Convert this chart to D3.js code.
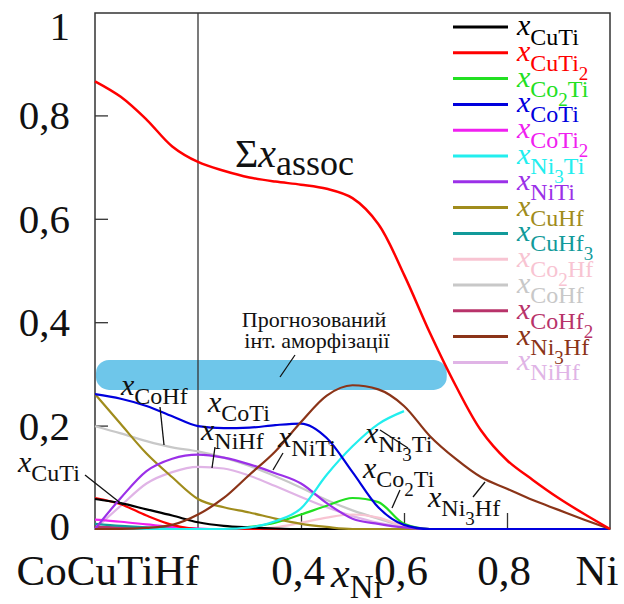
<!DOCTYPE html>
<html><head><meta charset="utf-8">
<script src="https://cdn.jsdelivr.net/npm/d3@7"></script>
<style>body{margin:0;background:#fff}svg{display:block}text{font-family:"Liberation Serif","Times New Roman",serif}</style>
</head><body><svg id="c" width="624" height="604" font-family="Liberation Serif, Times New Roman, serif"></svg>
<script>
// ---- data ----
const xGrid = [0,0.05,0.1,0.15,0.2,0.25,0.3,0.35,0.4,0.45,0.5,0.55,0.6,0.65,0.7,0.75,0.8,0.85,0.9,0.95,1];
const sumAssoc = [0.866,0.836,0.792,0.740,0.710,0.693,0.680,0.672,0.666,0.658,0.640,0.590,0.492,0.380,0.278,0.190,0.133,0.095,0.060,0.029,0];
const CuTi  = [0.058,0.050,0.038,0.026,0.013,0.006,0.003,0.001,0,0,0,0,0,0,0,0,0,0,0,0,0];
const CuTi2 = [0.060,0.048,0.026,0.008,0,0,0,0,0,0,0,0,0,0,0,0,0,0,0,0,0];
const Co2Ti = [0,0,0,0,0,0,0.004,0.012,0.028,0.045,0.060,0.052,0.010,0,0,0,0,0,0,0,0];
const CoTi  = [0.261,0.252,0.238,0.218,0.199,0.195,0.196,0.201,0.204,0.176,0.110,0.042,0.008,0,0,0,0,0,0,0,0];
const CoTi2 = [0.018,0.014,0.009,0.004,0.001,0,0,0,0,0,0,0,0,0,0,0,0,0,0,0,0];
const Ni3Ti = [0,0,0,0,0,0,0.003,0.015,0.040,0.105,0.160,0.203,0.228,null,null,null,null,null,null,null,null];
const NiTi  = [0,0.060,0.112,0.136,0.144,0.138,0.125,0.108,0.088,0.050,0.020,0.010,0.003,0,0,0,0,0,0,0,0];
const CuHf  = [0.261,0.203,0.146,0.100,0.058,0.042,0.032,0.020,0.010,0.004,0,0,0,0,0,0,0,0,0,0,0];
const CuHf3 = [0.010,0.006,0.003,0.001,0,0,0,0,0,0,0,0,0,0,0,0,0,0,0,0,0];
const Co2Hf = [0,0,0,0,0,0,0,0.003,0.012,0.022,0.028,0.022,0.006,0,0,0,0,0,0,0,0];
const CoHf  = [0.199,0.185,0.170,0.158,0.150,0.138,0.122,0.102,0.080,0.056,0.036,0.020,0.006,0,0,0,0,0,0,0,0];
const CoHf2 = [0.004,0.003,0.002,0.001,0,0,0,0,0,0,0,0,0,0,0,0,0,0,0,0,0];
const Ni3Hf = [0,0,0.002,0.008,0.028,0.060,0.105,0.150,0.207,0.258,0.278,0.270,0.238,0.180,0.136,0.100,0.078,0.056,0.037,0.018,0];
const NiHf  = [0,0.045,0.088,0.110,0.120,0.117,0.103,0.083,0.062,0.042,0.025,0.012,0.004,0,0,0,0,0,0,0,0];

const seriesNames  = ["CuTi","CuTi2","Co2Ti","CoTi","CoTi2","Ni3Ti","NiTi","CuHf","CuHf3","Co2Hf","CoHf","CoHf2","Ni3Hf","NiHf"];
const seriesValues = [CuTi,CuTi2,Co2Ti,CoTi,CoTi2,Ni3Ti,NiTi,CuHf,CuHf3,Co2Hf,CoHf,CoHf2,Ni3Hf,NiHf];
const seriesColors = ["#000000","#ff0000","#22e022","#0000dd","#f020f0","#22eeee","#9b30e8","#a08c1c","#129a9a","#f8c4d2","#c8c8c8","#b8336a","#8b3418","#e0b4e6"];

const yTickValues = [0,0.2,0.4,0.6,0.8,1];
const yTickLabels = ["0","0,2","0,4","0,6","0,8","1"];
const xTickValues = [0.2,0.4,0.6,0.8,1];
const xTickLabels = ["CoCuTiHf","0,4","0,6","0,8","Ni"];

const bandX = [0,0.683];
const bandY = [0.269,0.327];

// ---- chart ----
const svg = d3.select("#c");
const x = d3.scaleLinear().domain([0,1]).range([95,610]);
const y = d3.scaleLinear().domain([0,1]).range([529,12]);

// forecast band
svg.append("rect")
  .attr("x",x(bandX[0])+1).attr("y",y(bandY[1]))
  .attr("width",x(bandX[1])-x(bandX[0])-1).attr("height",y(bandY[0])-y(bandY[1]))
  .attr("rx",13).attr("fill","#6ec6ea");

// frame
svg.append("rect").attr("x",x(0)).attr("y",y(1)+1).attr("width",x(1)-x(0)).attr("height",y(0)-y(1)-1)
  .attr("fill","none").attr("stroke","#333").attr("stroke-width",1.5);

// y ticks (inner)
svg.append("g").attr("transform",`translate(${x(0)},0)`)
  .call(d3.axisRight(y).tickValues(yTickValues.filter(v=>v>0&&v<1)).tickSize(13).tickFormat(""))
  .call(g=>{g.select(".domain").remove();g.selectAll("line").attr("stroke","#333").attr("stroke-width",1.3);});
// x ticks (inner)
svg.append("g").attr("transform",`translate(0,${y(0)})`)
  .call(d3.axisTop(x).tickValues([0.4,0.6,0.8]).tickSize(16).tickFormat(""))
  .call(g=>{g.select(".domain").remove();g.selectAll("line").attr("stroke","#333").attr("stroke-width",1.3);});
// full vertical line at 0.2
svg.append("line").attr("x1",x(0.2)).attr("x2",x(0.2)).attr("y1",y(1)+1).attr("y2",y(0))
  .attr("stroke","#333").attr("stroke-width",1.3);

// y labels
yTickValues.forEach((v,i)=>{
  let by = y(v)+14;
  if (v===1) by = y(v)+28;
  if (v===0) by = y(v)+11;
  svg.append("text").attr("x",70).attr("y",by).attr("text-anchor","end")
    .attr("font-size",41).attr("fill","#111").text(yTickLabels[i]);
});
// x labels
xTickValues.forEach((v,i)=>{
  const t = svg.append("text").attr("y",585).attr("font-size",43).attr("fill","#111").text(xTickLabels[i]);
  if (i===0) t.attr("x",x(v)+1).attr("text-anchor","end");
  else if (v===1) t.attr("x",x(v)-13).attr("text-anchor","middle");
  else t.attr("x",x(v)-3).attr("text-anchor","middle");
});
// x axis title x_Ni
{
  const t = svg.append("text").attr("x",331).attr("y",587).attr("fill","#111");
  t.append("tspan").attr("font-style","italic").attr("font-size",42).text("x");
  t.append("tspan").attr("font-size",33).attr("dy",11).text("Ni");
}

// curves
const line = d3.line().defined(d=>d[1]!=null).x(d=>x(d[0])).y(d=>y(d[1])).curve(d3.curveMonotoneX);
const order = [10,13,9,11,8,4,2,1,0,7,6,5,3,12];
order.forEach(i=>{
  svg.append("path").datum(xGrid.map((xv,k)=>[xv,seriesValues[i][k]]))
    .attr("d",line).attr("fill","none").attr("stroke",seriesColors[i]).attr("stroke-width",2.2);
});
const smooth = d3.line().x(d=>x(d[0])).y(d=>y(d[1])).curve(d3.curveCatmullRom.alpha(0.5));
svg.append("path").datum(xGrid.map((xv,k)=>[xv,sumAssoc[k]]))
  .attr("d",smooth).attr("fill","none").attr("stroke","#ff0000").attr("stroke-width",2.5);

// rich label helper: x + subscript with numeric sub-subscripts
function richLabel(px,py,name,color,o){
  const t = svg.append("text").attr("x",px).attr("y",py).attr("fill",color);
  t.append("tspan").attr("font-style","italic").attr("font-size",o.xs).text("x");
  const toks = name.match(/[A-Za-z]+|\d+/g);
  let first = true, inNum = false;
  toks.forEach(tok=>{
    const isNum = /\d/.test(tok);
    let dy = 0;
    if (first) dy = o.subDy;
    if (isNum) dy += o.numDy;
    else if (inNum) dy -= o.numDy;
    t.append("tspan").attr("dy",dy).attr("font-size",isNum?o.ns:o.ss).text(tok);
    inNum = isNum; first = false;
  });
  return t;
}

// legend
seriesNames.forEach((n,i)=>{
  const ly = 27 + i*25.8;
  svg.append("line").attr("x1",453).attr("x2",508).attr("y1",ly).attr("y2",ly)
    .attr("stroke",seriesColors[i]).attr("stroke-width",3);
  richLabel(517, ly+8, n, seriesColors[i], {xs:30,ss:24,ns:19,subDy:10,numDy:9});
});

// sum label
{
  const t = svg.append("text").attr("x",235).attr("y",167).attr("fill","#111");
  t.append("tspan").attr("font-size",40).text("Σ");
  t.append("tspan").attr("font-size",40).attr("font-style","italic").text("x");
  t.append("tspan").attr("font-size",36).attr("dy",8).text("assoc");
}

// band text
svg.append("text").attr("x",314).attr("y",327).attr("text-anchor","middle").attr("font-size",22).attr("fill","#111").text("Прогнозований");
svg.append("text").attr("x",317).attr("y",348).attr("text-anchor","middle").attr("font-size",22).attr("fill","#111").text("інт. аморфізації");

// annotations
const ann = [
  {n:"CoHf", lx:121, ly:395, l:[160,407,164,445]},
  {n:"CoTi", lx:208, ly:412, l:null},
  {n:"NiHf", lx:201, ly:440, l:[215,447,212,468]},
  {n:"NiTi", lx:278, ly:447, l:[283,453,273,470]},
  {n:"CuTi", lx:18,  ly:472, l:[85,475,123,505]},
  {n:"Ni3Ti", lx:365, ly:443, l:[380,430,408,448]},
  {n:"Co2Ti", lx:363, ly:478, l:[400,490,392,508]},
  {n:"Ni3Hf", lx:428, ly:507, l:[473,497,485,482]}
];
ann.forEach(a=>{
  richLabel(a.lx,a.ly,a.n,"#111",{xs:30,ss:24,ns:19,subDy:9,numDy:9});
  if (a.l) svg.append("line").attr("x1",a.l[0]).attr("y1",a.l[1]).attr("x2",a.l[2]).attr("y2",a.l[3])
    .attr("stroke","#111").attr("stroke-width",1.3);
});
svg.append("line").attr("x1",295).attr("y1",355).attr("x2",280).attr("y2",377).attr("stroke","#111").attr("stroke-width",1.3);
</script></body></html>
